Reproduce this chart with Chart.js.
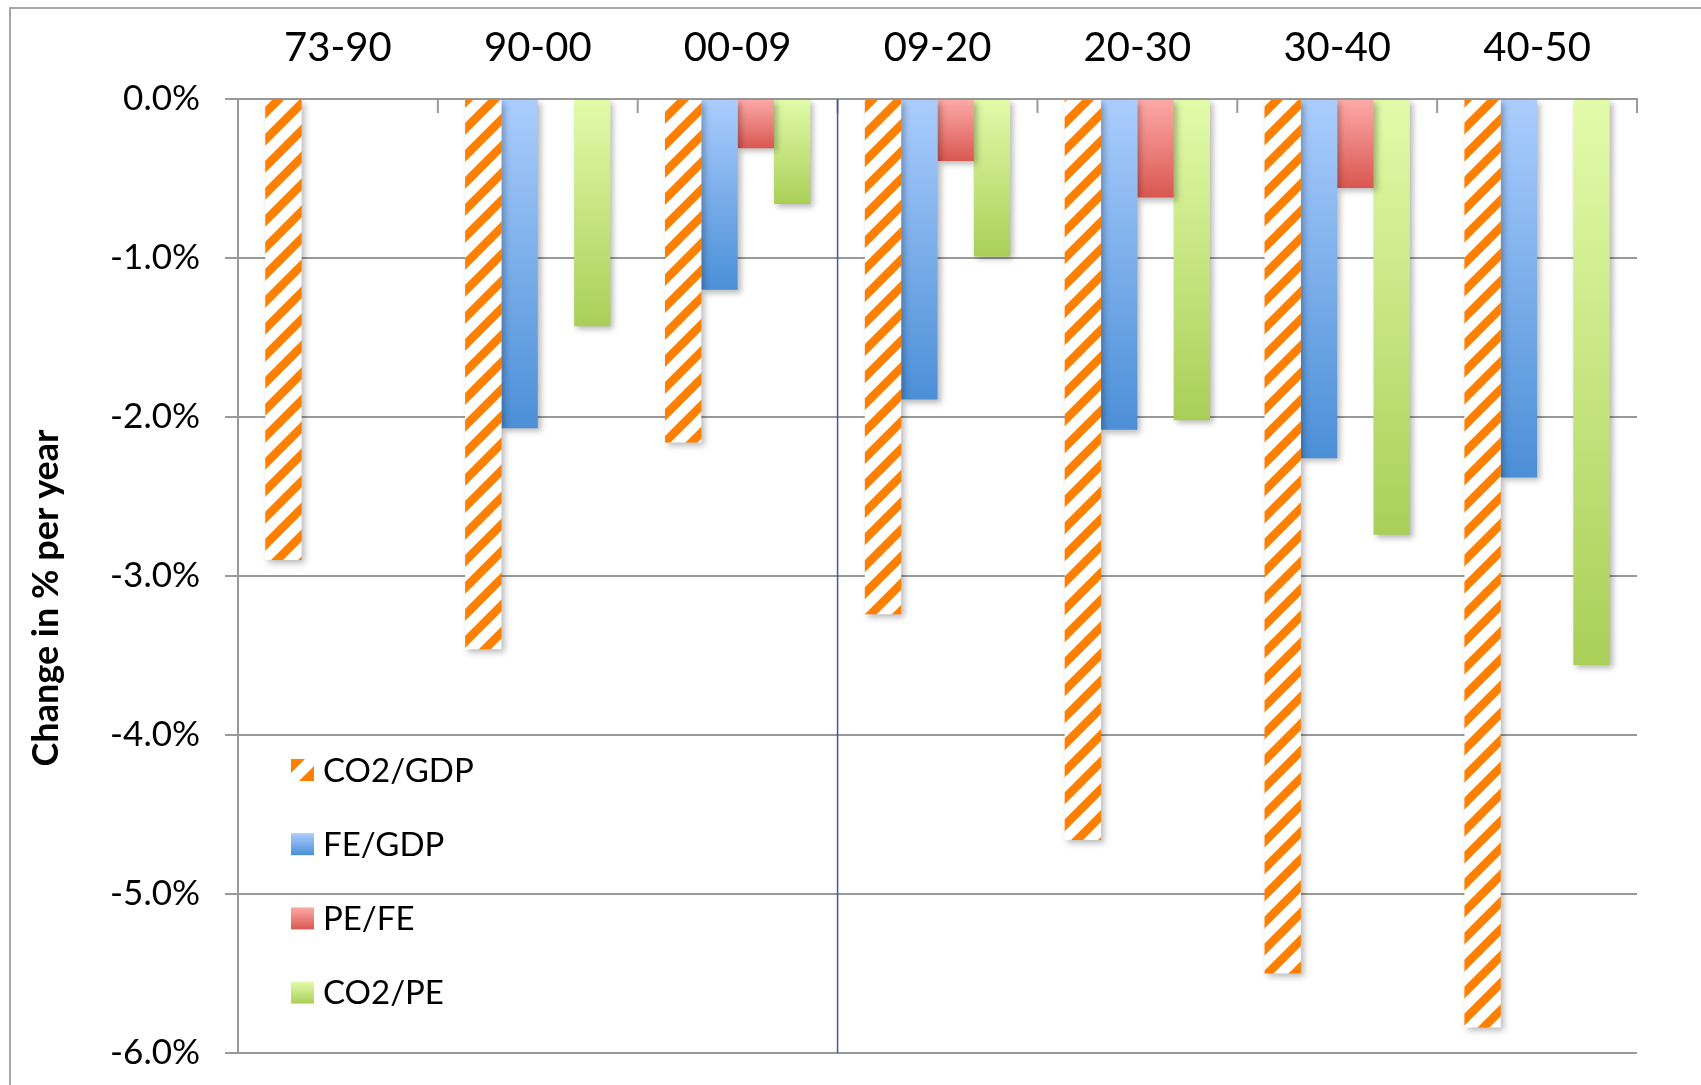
<!DOCTYPE html>
<html>
<head>
<meta charset="utf-8">
<title>Change in % per year</title>
<script src="https://cdn.jsdelivr.net/npm/chart.js@4.4.1/dist/chart.umd.min.js"></script>
<style>
  html, body { margin: 0; padding: 0; background: #fff; }
  canvas { display: block; }
</style>
</head>
<body>
<canvas id="decomp" width="1701" height="1085"></canvas>
<script>
// periods and yearly change of each factor (% per year)
var periods = ['73-90', '90-00', '00-09', '09-20', '20-30', '30-40', '40-50'];
var co2Gdp = [-2.90, -3.46, -2.16, -3.24, -4.66, -5.50, -5.84];
var feGdp  = [null, -2.07, -1.20, -1.89, -2.08, -2.26, -2.38];
var peFe   = [null, null, -0.31, -0.39, -0.62, -0.56, null];
var co2Pe  = [null, -1.43, -0.66, -0.99, -2.02, -2.74, -3.56];
var yTicks = [0, -1, -2, -3, -4, -5, -6];

var gridGrey = '#999999';
var orange = '#ff8000';

// diagonal orange / white stripes
function hatchPattern() {
    var p = 27;
    var c = document.createElement('canvas');
    c.width = p; c.height = p;
    var g = c.getContext('2d');
    g.fillStyle = '#fff';
    g.fillRect(0, 0, p, p);
    g.strokeStyle = orange;
    g.lineWidth = 8.5;
    [0, p, 2 * p].forEach(function (k) {
        g.beginPath();
        g.moveTo(k + p, -p);
        g.lineTo(k - 2 * p, 2 * p);
        g.stroke();
    });
    return g.createPattern(c, 'repeat');
}
var hatch = hatchPattern();

// each bar gets its own light-to-dark vertical gradient
function barGradient(top, bottom) {
    return function (context) {
        var chart = context.chart;
        var y = chart.scales.y;
        if (!chart.chartArea || !y || context.raw == null) return bottom;
        var y0 = y.getPixelForValue(0);
        var y1 = y.getPixelForValue(context.raw);
        if (Math.abs(y1 - y0) < 1) return bottom;
        var g = chart.ctx.createLinearGradient(0, y0, 0, y1);
        g.addColorStop(0, top);
        g.addColorStop(1, bottom);
        return g;
    };
}

var series = [
    { label: 'CO2/GDP', data: co2Gdp, fill: hatch },
    { label: 'FE/GDP', data: feGdp, top: '#abcdfd', bottom: '#4b8fd7' },
    { label: 'PE/FE', data: peFe, top: '#fdaaa8', bottom: '#da5750' },
    { label: 'CO2/PE', data: co2Pe, top: '#e2fbaa', bottom: '#aacf58' }
];

var decorations = {
    id: 'decorations',
    beforeDraw: function (chart) {
        var ctx = chart.ctx;
        ctx.save();
        ctx.strokeStyle = '#a6a6a6';
        ctx.lineWidth = 2;
        ctx.beginPath();
        ctx.moveTo(10, chart.height);
        ctx.lineTo(10, 8);
        ctx.lineTo(chart.width, 8);
        ctx.stroke();
        ctx.restore();
    },
    beforeDatasetsDraw: function (chart) {
        var ctx = chart.ctx;
        ctx.save();
        ctx.shadowColor = 'rgba(0, 0, 0, 0.28)';
        ctx.shadowBlur = 6;
        ctx.shadowOffsetX = 3;
        ctx.shadowOffsetY = 3;
    },
    afterDatasetsDraw: function (chart) {
        chart.ctx.restore();
    },
    afterDraw: function (chart) {
        var ctx = chart.ctx;
        var area = chart.chartArea;
        var x = chart.scales.x;
        var step = (area.right - area.left) / periods.length;
        ctx.save();

        // inward tick marks between periods
        ctx.strokeStyle = gridGrey;
        ctx.lineWidth = 2;
        for (var i = 1; i <= periods.length; i++) {
            var tx = x.getPixelForValue(i - 1) + step / 2;
            ctx.beginPath();
            ctx.moveTo(tx, area.top);
            ctx.lineTo(tx, area.top + 14);
            ctx.stroke();
        }

        // divider between past and projected periods
        var dx = (x.getPixelForValue(2) + x.getPixelForValue(3)) / 2;
        ctx.strokeStyle = '#4d4db8';
        ctx.lineWidth = 1.5;
        ctx.beginPath();
        ctx.moveTo(dx, area.top);
        ctx.lineTo(dx, area.bottom);
        ctx.stroke();

        // axis title
        ctx.fillStyle = '#000';
        ctx.font = 'bold 36px Lato';
        ctx.textAlign = 'center';
        ctx.textBaseline = 'middle';
        ctx.translate(46, 598);
        ctx.rotate(-Math.PI / 2);
        ctx.fillText('Change in % per year', 0, 0);
        ctx.setTransform(1, 0, 0, 1, 0, 0);

        // legend
        ctx.font = '33px Lato';
        ctx.textAlign = 'left';
        series.forEach(function (s, i) {
            var cy = 770 + i * 74.2;
            var bx = 291, by = cy - 11, bw = 23, bh = 22;
            if (s.fill) {
                ctx.save();
                ctx.beginPath();
                ctx.rect(bx, by, bw, bh);
                ctx.clip();
                ctx.fillStyle = '#fff';
                ctx.fillRect(bx, by, bw, bh);
                ctx.fillStyle = orange;
                ctx.beginPath();
                ctx.moveTo(bx, by);
                ctx.lineTo(bx + 14, by);
                ctx.lineTo(bx, by + 14);
                ctx.closePath();
                ctx.fill();
                ctx.beginPath();
                ctx.moveTo(bx + bw, by + bh);
                ctx.lineTo(bx + bw - 15, by + bh);
                ctx.lineTo(bx + bw, by + bh - 15);
                ctx.closePath();
                ctx.fill();
                ctx.restore();
            } else {
                var g = ctx.createLinearGradient(0, by, 0, by + bh);
                g.addColorStop(0, s.top);
                g.addColorStop(1, s.bottom);
                ctx.fillStyle = g;
                ctx.fillRect(bx, by, bw, bh);
            }
            ctx.fillStyle = '#000';
            ctx.fillText(s.label, 323, cy + 1);
        });
        ctx.restore();
    }
};

var ctx = document.getElementById('decomp').getContext('2d');
var chart = new Chart(ctx, {
    type: 'bar',
    data: {
        labels: periods,
        datasets: series.map(function (s) {
            return {
                label: s.label,
                data: s.data,
                backgroundColor: s.fill ? s.fill : barGradient(s.top, s.bottom),
                borderWidth: 0,
                barPercentage: 1,
                categoryPercentage: 0.727
            };
        })
    },
    options: {
        responsive: false,
        animation: false,
        layout: { padding: { left: 0, top: 0, right: 64, bottom: 32 } },
        plugins: {
            legend: { display: false },
            tooltip: { enabled: false }
        },
        scales: {
            x: {
                position: 'top',
                grid: { display: false },
                border: { display: true, color: gridGrey, width: 2 },
                ticks: {
                    color: '#000',
                    padding: 19,
                    font: { family: 'Lato', size: 40 }
                },
                afterFit: function (scale) { scale.height = 99; }
            },
            y: {
                min: -6,
                max: 0,
                afterBuildTicks: function (scale) {
                    scale.ticks = yTicks.map(function (v) { return { value: v }; });
                },
                grid: { color: gridGrey, lineWidth: 2, tickLength: 13 },
                border: { display: true, color: gridGrey, width: 2 },
                ticks: {
                    color: '#000',
                    padding: 25,
                    font: { family: 'Lato', size: 35 },
                    callback: function (v) { return v.toFixed(1) + '%'; }
                },
                afterFit: function (scale) {
                    // fixed axis width; label overflow is covered by the layout padding
                    scale.width = 238;
                    scale.paddingTop = 0;
                    scale.paddingBottom = 0;
                }
            }
        }
    },
    plugins: [decorations]
});
</script>
</body>
</html>
